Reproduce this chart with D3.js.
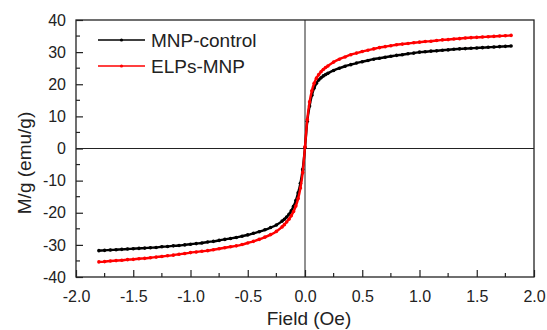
<!DOCTYPE html>
<html>
<head>
<meta charset="utf-8">
<script src="https://cdn.jsdelivr.net/npm/d3@7"></script>
<style>
  body { margin: 0; background: #fff; }
  text { font-family: Arial, "Liberation Sans", sans-serif; fill: #222; }
</style>
</head>
<body>
<div id="chart"></div>
<script>

// field values (Oe), shared by both curves
var field = [
  -1.80,-1.75,-1.70,-1.65,-1.60,-1.55,-1.50,-1.45,-1.40,-1.35,-1.30,-1.25,-1.20,-1.15,-1.10,-1.05,
  -1.00,-0.95,-0.90,-0.85,-0.80,-0.75,-0.70,-0.65,-0.60,-0.55,-0.50,-0.45,-0.40,-0.35,-0.30,-0.25,
  -0.20,-0.18,-0.16,-0.14,-0.12,-0.10,-0.08,-0.06,-0.04,-0.02,0.00,
  0.02,0.04,0.06,0.08,0.10,0.12,0.14,0.16,0.18,
  0.20,0.25,0.30,0.35,0.40,0.45,0.50,0.55,0.60,0.65,0.70,0.75,0.80,0.85,0.90,0.95,
  1.00,1.05,1.10,1.15,1.20,1.25,1.30,1.35,1.40,1.45,1.50,1.55,1.60,1.65,1.70,1.75,1.80
];

// MNP-control magnetization (emu/g)
var mnpControl = [
  -31.8,-31.7,-31.6,-31.5,-31.4,-31.3,-31.2,-31.1,-31.0,-30.9,-30.8,-30.6,-30.5,-30.3,-30.2,-30.0,
  -29.8,-29.6,-29.4,-29.1,-28.9,-28.6,-28.3,-28.0,-27.7,-27.3,-26.9,-26.4,-25.9,-25.3,-24.6,-23.8,
  -22.6,-22.0,-21.3,-20.5,-19.4,-18.0,-16.2,-13.8,-10.8,-6.5,0.3,
  8.5,13.2,16.6,18.8,20.3,21.3,22.0,22.6,23.0,
  23.4,24.3,25.0,25.6,26.1,26.6,27.0,27.4,27.8,28.1,28.4,28.7,29.0,29.2,29.5,29.7,
  30.0,30.1,30.3,30.4,30.6,30.7,30.9,31.0,31.1,31.2,31.3,31.4,31.5,31.6,31.7,31.8,31.9
];

// ELPs-MNP magnetization (emu/g)
var elpsMnp = [
  -35.3,-35.2,-35.0,-34.9,-34.8,-34.6,-34.5,-34.3,-34.2,-34.0,-33.8,-33.6,-33.4,-33.2,-32.9,-32.7,
  -32.4,-32.2,-32.0,-31.8,-31.5,-31.2,-30.9,-30.6,-30.3,-29.9,-29.4,-28.9,-28.3,-27.6,-26.8,-25.8,
  -24.4,-23.7,-22.9,-22.0,-20.9,-19.6,-17.9,-15.6,-12.3,-7.5,0.5,
  9.0,14.5,18.0,20.3,21.9,23.0,23.9,24.6,25.2,
  25.7,26.9,27.8,28.5,29.2,29.7,30.2,30.6,31.0,31.4,31.7,32.0,32.3,32.5,32.7,32.9,
  33.1,33.3,33.4,33.6,33.8,33.9,34.1,34.2,34.4,34.5,34.6,34.7,34.8,34.9,35.0,35.1,35.2
];

var seriesNames = ["MNP-control", "ELPs-MNP"];
var seriesColors = ["#000000", "#ff0000"];
var xTicks = [-2.0,-1.5,-1.0,-0.5,0.0,0.5,1.0,1.5,2.0];
var yTicks = [-40,-30,-20,-10,0,10,20,30,40];

var width = 547, height = 330;
var margin = {top: 20, right: 13, bottom: 53, left: 76};
var w = width - margin.left - margin.right;
var h = height - margin.top - margin.bottom;

var svg = d3.select("#chart").append("svg")
    .attr("width", width)
    .attr("height", height);

var g = svg.append("g")
    .attr("transform", "translate(" + margin.left + "," + margin.top + ")");

var x = d3.scaleLinear().domain([-2, 2]).range([0, w]);
var y = d3.scaleLinear().domain([-40, 40]).range([h, 0]);

// plain hyphen for negative labels, like the original plot
var fmtX = d3.formatLocale({decimal: ".", thousands: ",", grouping: [3], currency: ["", ""], minus: "-"}).format(".1f");
var fmtY = d3.formatLocale({decimal: ".", thousands: ",", grouping: [3], currency: ["", ""], minus: "-"}).format("d");

// minor ticks (inward, no labels)
var xMinor = d3.range(-1.75, 2, 0.5);
var yMinor = d3.range(-35, 40, 10);

g.selectAll(".xminor").data(xMinor).enter().append("line")
    .attr("x1", function(d){ return x(d); })
    .attr("x2", function(d){ return x(d); })
    .attr("y1", h).attr("y2", h - 4)
    .attr("stroke", "#222").attr("stroke-width", 1.2);

g.selectAll(".yminor").data(yMinor).enter().append("line")
    .attr("y1", function(d){ return y(d); })
    .attr("y2", function(d){ return y(d); })
    .attr("x1", 0).attr("x2", 4)
    .attr("stroke", "#222").attr("stroke-width", 1.2);

// major axes with inward ticks
var xAxis = g.append("g")
    .attr("transform", "translate(0," + h + ")")
    .call(d3.axisBottom(x).tickValues(xTicks).tickFormat(fmtX).tickSizeInner(-7).tickSizeOuter(0).tickPadding(14));

var yAxis = g.append("g")
    .call(d3.axisLeft(y).tickValues(yTicks).tickFormat(fmtY).tickSizeInner(-7).tickSizeOuter(0).tickPadding(10));

[xAxis, yAxis].forEach(function(a){
  a.select(".domain").remove();
  a.selectAll("line").attr("stroke", "#222").attr("stroke-width", 1.2);
  a.selectAll("text")
    .style("font-family", "Arial, 'Liberation Sans', sans-serif")
    .style("font-size", "16px")
    .attr("fill", "#222");
});

// frame
g.append("rect")
    .attr("x", 0).attr("y", 0)
    .attr("width", w).attr("height", h)
    .attr("fill", "none")
    .attr("stroke", "#222")
    .attr("stroke-width", 1.3);

// zero lines
g.append("line")
    .attr("x1", 0).attr("x2", w)
    .attr("y1", y(0)).attr("y2", y(0))
    .attr("stroke", "#222").attr("stroke-width", 1);
g.append("line")
    .attr("x1", x(0)).attr("x2", x(0))
    .attr("y1", 0).attr("y2", h)
    .attr("stroke", "#222").attr("stroke-width", 1);

// curves
var line = d3.line()
    .curve(d3.curveMonotoneX)
    .x(function(d){ return x(d[0]); })
    .y(function(d){ return y(d[1]); });

[mnpControl, elpsMnp].forEach(function(vals, k){
  var pts = field.map(function(f, i){ return [f, vals[i]]; });
  g.append("path")
      .datum(pts)
      .attr("d", line)
      .attr("fill", "none")
      .attr("stroke", seriesColors[k])
      .attr("stroke-width", 2.4);
  g.append("g").selectAll("circle")
      .data(pts)
      .enter().append("circle")
      .attr("cx", function(d){ return x(d[0]); })
      .attr("cy", function(d){ return y(d[1]); })
      .attr("r", 1.8)
      .attr("fill", seriesColors[k]);
});

// legend
var legend = g.append("g").attr("transform", "translate(22,20)");
seriesNames.forEach(function(name, i){
  var row = legend.append("g").attr("transform", "translate(0," + (i * 26) + ")");
  row.append("line")
      .attr("x1", 0).attr("x2", 47)
      .attr("y1", 0).attr("y2", 0)
      .attr("stroke", seriesColors[i]).attr("stroke-width", 1.4);
  row.append("circle")
      .attr("cx", 23.5).attr("cy", 0).attr("r", 1.6)
      .attr("fill", seriesColors[i]);
  row.append("text")
      .attr("x", 53).attr("y", 6.5)
      .style("font-size", "19px")
      .text(name);
});

// axis titles
svg.append("text")
    .attr("x", margin.left + w / 2 + 4)
    .attr("y", 325)
    .attr("text-anchor", "middle")
    .style("font-size", "19px")
    .text("Field (Oe)");

svg.append("text")
    .attr("transform", "translate(31,163) rotate(-90)")
    .attr("text-anchor", "middle")
    .style("font-size", "19px")
    .text("M/g (emu/g)");

</script>
</body>
</html>
